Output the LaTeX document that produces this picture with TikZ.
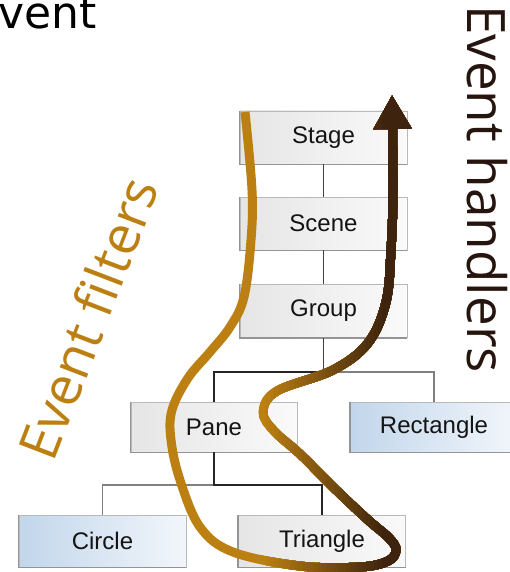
\documentclass[tikz,border=0pt]{standalone}
\usepackage{fontspec}
\setmainfont{Liberation Sans}
\newfontfamily\osans{Open Sans}
\newfontfamily\dvsans{DejaVu Sans}
\usetikzlibrary{arrows.meta}
\definecolor{gold}{RGB}{188,128,18}
\definecolor{dbrown}{RGB}{62,36,14}
\definecolor{hdark}{RGB}{38,20,14}
\definecolor{boxborder}{RGB}{185,185,185}
\definecolor{blueL}{RGB}{194,214,235}
\definecolor{blueR}{RGB}{242,246,251}
\begin{document}
\begin{tikzpicture}[x=1pt,y=1pt,
  box/.style={minimum width=167pt, minimum height=53pt, inner sep=0pt, draw=boxborder, line width=0.8pt,
    font=\fontsize{24}{24}\selectfont, text=black!92},
  graybox/.style={box, left color=black!10, right color=black!2},
  bluebox/.style={box, left color=blueL, right color=blueR},
  edgeshade/.style={draw=black!42, line width=1.4pt},
  trunk/.style={draw=black!75, line width=1.6pt},
  hl/.style={draw=black!85, line width=2.6pt},
  pl/.style={draw=black!50, line width=1.2pt},
  flow/.style={line width=9pt, -{Triangle[length=34pt,width=36pt]}}]
\useasboundingbox (0,0) rectangle (510,-572);

% nodes
\node[graybox] (stage) at (323.5,-137.5) {Stage};
\node[graybox] (scene) at (323.5,-223.5) {Scene};
\node[graybox] (group) at (323.5,-311) {Group};
\node[graybox, minimum width=166pt, minimum height=50pt] (pane) at (214,-427) {Pane};
\node[bluebox, minimum height=50pt] (rect) at (434,-427) {Rectangle};
\node[bluebox, minimum height=52pt] (circle) at (102.5,-541) {Circle};
\node[graybox, minimum height=52pt] (tri) at (322,-541) {Triangle};

\foreach \n in {stage,scene,group,pane,rect,circle,tri}
  \draw[edgeshade] (\n.north west) -- (\n.south west) -- (\n.south east);

% tree connectors
\coordinate (j1) at (323.5,-372);
\coordinate (j2) at (214,-485);
\draw[trunk] (stage.south) -- (scene.north);
\draw[trunk] (scene.south) -- (group.north);
\draw[trunk] (group.south) -- (j1);
\draw[pl] (j1) -| (rect.north);
\draw[hl] (j1) -| (pane.north);
\draw[pl] (j2) -| (circle.north);
\draw[hl] (pane.south) -- (j2) -| (tri.north);

% event flow curve with horizontal gradient
\foreach \i in {0,...,31} {
  \pgfmathsetmacro\xa{\i==0 ? -10 : 258+4*\i}
  \pgfmathtruncatemacro\pc{min(100,100*(31-\i)/30)}
  \begin{scope}
    \clip (\xa,10) rectangle (520,-580);
    \draw[flow, draw=gold!\pc!dbrown]
      plot[smooth, tension=0.6] coordinates {
        (245,-112) (252,-190) (251,-240) (244,-297) (230,-327) (210,-352)
        (188,-378) (172,-410) (171,-440) (180,-480) (200,-527) (233,-552)
        (300,-566) (360,-567) (388,-561) (396,-550) (389,-538) (367,-519)
        (333,-487) (300,-454) (274,-431) (263,-412) (277,-391) (333,-370)
        (368,-343) (386,-302) (391,-250) (393,-190) (392,-95)};
  \end{scope}
}

% labels
\node[font=\dvsans\fontsize{44}{44}\selectfont, anchor=base west, inner sep=0pt, text=black] (vent) at (-2,-29) {vent};
\node[rotate=-90, anchor=base west, inner sep=0pt, font=\osans\fontsize{53}{53}\selectfont, text=hdark] (eh) at (467,-5) {Event handlers};
\node[rotate=69, inner sep=0pt, font=\osans\fontsize{54}{54}\selectfont, text=gold] (ef) at (88,-318) {Event filters};
\end{tikzpicture}
\end{document}
